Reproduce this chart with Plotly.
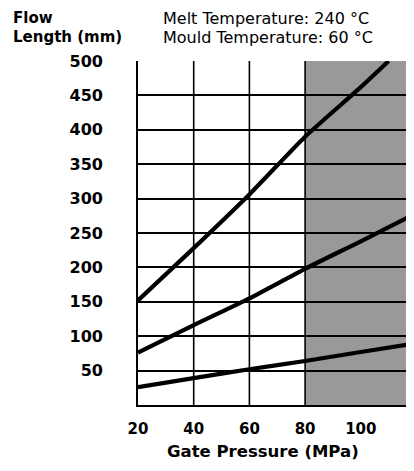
import plotly.graph_objects as go

# ---- data ----
gate_pressure = [20, 40, 60, 80, 100, 110]
flow_high = [152, 228, 306, 390, 462, 500]

gate_pressure_mid = [20, 40, 60, 80, 100, 120]
flow_mid = [76, 116, 155, 198, 238, 279]

gate_pressure_low = [20, 40, 60, 80, 100, 120]
flow_low = [26, 39, 52, 64, 77, 90]

x_ticks = [20, 40, 60, 80, 100]
y_ticks = [50, 100, 150, 200, 250, 300, 350, 400, 450, 500]
x_grid = [40, 60, 80]
shaded_from = 80

X_RANGE = [20, 119.1]
Y_RANGE = [0, 500]

fig = go.Figure()

for xs, ys in [(gate_pressure, flow_high), (gate_pressure_mid, flow_mid), (gate_pressure_low, flow_low)]:
    fig.add_trace(go.Scatter(x=xs, y=ys, mode="lines",
                             line=dict(color="black", width=4.2, shape="spline", smoothing=0.6),
                             showlegend=False, hoverinfo="skip"))

shapes = [dict(type="rect", xref="x", yref="y", x0=shaded_from, x1=X_RANGE[1],
               y0=Y_RANGE[0], y1=Y_RANGE[1], fillcolor="#999999",
               line=dict(width=0), layer="below")]
for gx in x_grid:
    shapes.append(dict(type="line", xref="x", yref="y", x0=gx, x1=gx,
                       y0=Y_RANGE[0], y1=Y_RANGE[1],
                       line=dict(color="black", width=1.6), layer="between"))

# page body has an 8px margin; figure size/margins compensate for it
PLOT_H = 344.0
ann_font = dict(family="DejaVu Sans", size=16, color="black")
lab_font = dict(family="DejaVu Sans", size=15, color="black", weight="bold")


def py(pix):
    return (405 - pix) / PLOT_H


def px(pix):
    return (pix - 138) / 276.0


annotations = [
    dict(text="Flow", xref="paper", yref="paper", x=px(11), y=py(18),
         xanchor="left", yanchor="middle", showarrow=False, font=lab_font),
    dict(text="Length (mm)", xref="paper", yref="paper", x=px(11), y=py(37),
         xanchor="left", yanchor="middle", showarrow=False, font=lab_font),
    dict(text="Melt Temperature: 240 °C", xref="paper", yref="paper", x=px(161), y=py(18),
         xanchor="left", yanchor="middle", showarrow=False, font=ann_font),
    dict(text="Mould Temperature: 60 °C", xref="paper", yref="paper", x=px(161), y=py(37),
         xanchor="left", yanchor="middle", showarrow=False, font=ann_font),
    dict(text="Gate Pressure (MPa)", xref="paper", yref="paper", x=px(263), y=py(451),
         xanchor="center", yanchor="middle", showarrow=False,
         font=dict(family="DejaVu Sans", size=16.5, color="black", weight="bold")),
]

fig.update_layout(
    width=406, height=463,
    margin=dict(l=130, r=0, t=53, b=66, pad=0, autoexpand=False),
    paper_bgcolor="white", plot_bgcolor="white",
    shapes=shapes, annotations=annotations,
    xaxis=dict(range=X_RANGE, tickvals=x_ticks, showgrid=False, zeroline=False,
               showline=True, linecolor="black", linewidth=1.6,
               ticks="", ticklabelstandoff=9,
               tickfont=dict(family="DejaVu Sans", size=15, color="black", weight="bold"),
               fixedrange=True),
    yaxis=dict(range=Y_RANGE, tickvals=y_ticks, showgrid=True, gridcolor="black",
               gridwidth=1.6, zeroline=False,
               showline=True, linecolor="black", linewidth=1.6,
               ticks="", ticklabelstandoff=30,
               tickfont=dict(family="DejaVu Sans", size=16, color="black", weight="bold"),
               fixedrange=True),
)

fig.write_html("out.html")
